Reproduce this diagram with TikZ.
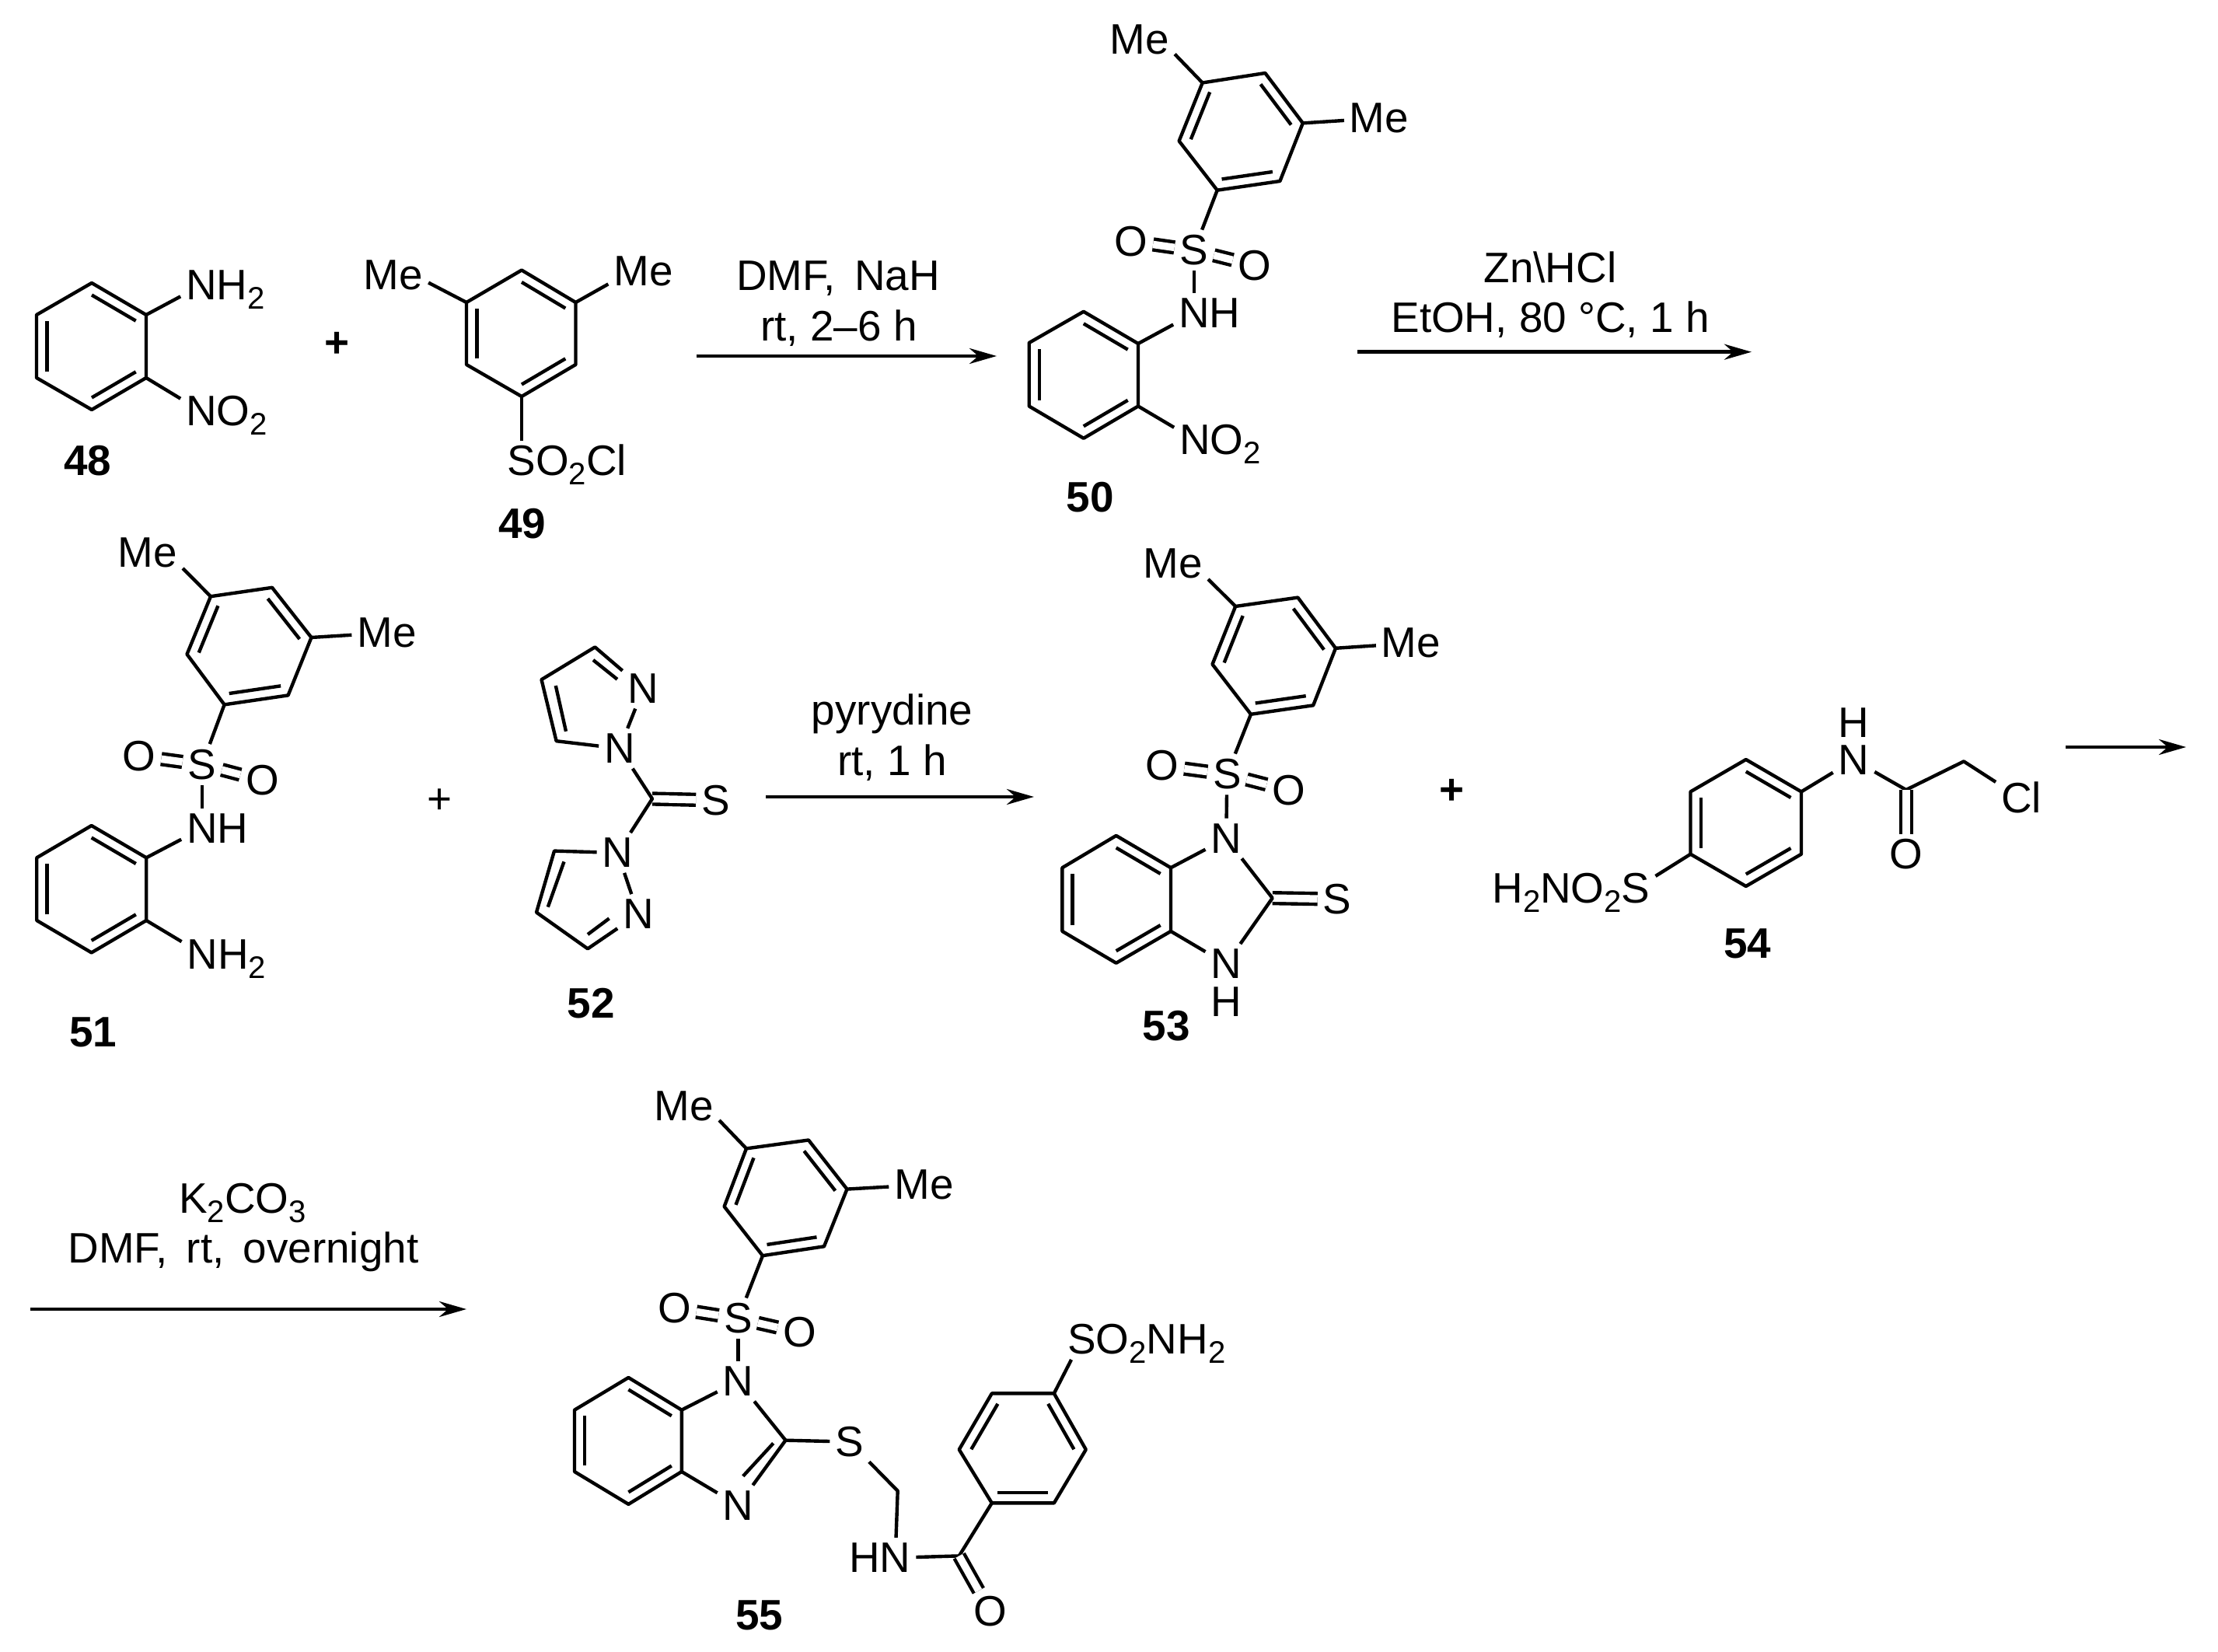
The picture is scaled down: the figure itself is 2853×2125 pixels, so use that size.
\documentclass[tikz,border=0pt]{standalone}
\usepackage{fontspec}
\setmainfont{Liberation Sans}
\usetikzlibrary{arrows.meta}
\usetikzlibrary{calc}
\newcommand*{\chemfont}{\fontsize{15.6}{18}\selectfont}
\newcommand*{\widechem}{\chemfont\spaceskip=0.44em\relax}
\newcommand*{\subn}[1]{\raisebox{-0.22em}{\fontsize{11.4}{12}\selectfont #1}}
\tikzstyle{atom}=[font=\chemfont, inner sep=0.07cm, outer sep=0pt]
\tikzstyle{hatom}=[font=\chemfont, inner sep=0pt, outer sep=0pt]
\tikzstyle{tailr}=[font=\chemfont, inner sep=0pt, outer sep=0pt, anchor=base west, xshift=-0.07cm]
\tikzstyle{taill}=[font=\chemfont, inner sep=0pt, outer sep=0pt, anchor=base east, xshift=0.07cm]
\tikzstyle{reagent}=[font=\chemfont, inner sep=0pt, anchor=base]
\tikzstyle{reagentw}=[font=\widechem, inner sep=0pt, anchor=base]
\tikzstyle{lbl}=[font=\chemfont\bfseries, inner sep=0pt]
\tikzstyle{bond}=[line width=1.25pt, line join=round]
\tikzstyle{dbond}=[bond, double, double distance=0.095cm]
\tikzstyle{rxn}=[line width=1.35pt, -{Stealth[length=0.35cm, width=0.2cm]}]
\newcommand*{\hexring}[7]{
    \coordinate (#1a) at #2;
    \coordinate (#1b) at #3;
    \coordinate (#1c) at #4;
    \coordinate (#1d) at #5;
    \coordinate (#1e) at #6;
    \coordinate (#1f) at #7;
    \coordinate (#1o) at ($(#1a)!0.5!(#1d)$);
    \draw [bond] (#1a) -- (#1b) -- (#1c) -- (#1d) -- (#1e) -- (#1f) -- cycle;
}
\newcommand*{\inbond}[3]{\draw [bond] ($(#1#2)!0.19!(#1o)$) -- ($(#1#3)!0.19!(#1o)$);}
\begin{document}
\begin{tikzpicture}[x=0.01cm, y=-0.01cm]
    \path [use as bounding box] (0,0) rectangle (2853,2125);

    % 48
    \hexring{ra}{(118,364)}{(188,405)}{(188,486)}{(118,527)}{(47,486)}{(47,405)}
    \inbond{ra}{a}{b} \inbond{ra}{c}{d} \inbond{ra}{e}{f}
    \node [atom] (n48a) at (259,367) {N};
    \node [tailr] (n48at) at (n48a.base east) {H\subn{2}};
    \node [atom] (n48b) at (259,529) {N};
    \node [tailr] (n48bt) at (n48b.base east) {O\subn{2}};
    \draw [bond] (rab) -- (n48a);
    \draw [bond] (rac) -- (n48b);
    \node [lbl] (l48) at (113,593) {48};
    \node [lbl] (p1) at (434,443) {+};

    % 49
    \hexring{rb}{(671,347.5)}{(740.5,389)}{(740.5,469)}{(671,510)}{(600,469)}{(600,389)}
    \inbond{rb}{a}{b} \inbond{rb}{c}{d} \inbond{rb}{e}{f}
    \node [atom] (me49l) at (506,354) {Me};
    \node [atom] (me49r) at (827.5,349) {Me};
    \node [atom] (s49) at (671,593) {S};
    \node [tailr] (s49t) at (s49.base east) {O\subn{2}Cl};
    \draw [bond] (rbf) -- (me49l.-12);
    \draw [bond] (rbb) -- (me49r.-160);
    \draw [bond] (rbd) -- (s49);
    \node [lbl] (l49) at (672,673.5) {49};

    \coordinate (a1s) at (895.5,458);
    \coordinate (a1e) at (1282,458);
    \draw [rxn] (a1s) -- (a1e);
    \node [reagentw] (t1a) at (1078,374) {DMF, NaH};
    \node [reagent] (t1b) at (1079,438.5) {rt, 2–6 h};

    % 50
    \hexring{rc}{(1546.7,106.5)}{(1627.4,94)}{(1675.8,158.4)}{(1646.4,233)}{(1565.7,244.7)}{(1516.6,181.4)}
    \inbond{rc}{f}{a} \inbond{rc}{b}{c} \inbond{rc}{d}{e}
    \hexring{rd}{(1393.8,400.8)}{(1464,442)}{(1464,522.5)}{(1393.8,563.8)}{(1323.7,522.5)}{(1323.7,441)}
    \inbond{rd}{a}{b} \inbond{rd}{c}{d} \inbond{rd}{e}{f}
    \node [atom] (me50l) at (1466,50.5) {Me};
    \node [atom] (me50r) at (1774,152) {Me};
    \node [atom] (s50) at (1536,322) {S};
    \node [atom] (o50l) at (1454.8,310.4) {O};
    \node [atom] (o50r) at (1614,341.6) {O};
    \node [atom] (n50a) at (1536,403) {N};
    \node [tailr] (n50at) at (n50a.base east) {H};
    \node [atom] (n50b) at (1537,565.7) {N};
    \node [tailr] (n50bt) at (n50b.base east) {O\subn{2}};
    \draw [bond] (rca) -- (me50l.-23);
    \draw [bond] (rcc) -- (me50r);
    \draw [bond] (rce) -- (s50);
    \draw [dbond] (s50) -- (o50l);
    \draw [dbond] (s50) -- (o50r);
    \draw [bond] (s50) -- (n50a);
    \draw [bond] (rdb) -- (n50a);
    \draw [bond] (rdc) -- (n50b);
    \node [lbl] (l50) at (1402,640) {50};

    \coordinate (a2s) at (1746,452.7);
    \coordinate (a2e) at (2253,452.7);
    \draw [rxn] (a2s) -- (a2e);
    \node [reagent] (t2a) at (1994,363.6) {Zn\textbackslash HCl};
    \node [reagent] (t2b) at (1994,428) {EtOH, 80 °C, 1 h};

    % 51
    \hexring{re}{(271,767.2)}{(350,755.8)}{(400.5,820)}{(370.6,894.4)}{(288.6,906.4)}{(240.5,841.6)}
    \inbond{re}{f}{a} \inbond{re}{b}{c} \inbond{re}{d}{e}
    \hexring{rf}{(117.7,1062)}{(188.2,1103.3)}{(188.2,1184)}{(117.7,1225.4)}{(47.3,1184)}{(47.3,1103.3)}
    \inbond{rf}{a}{b} \inbond{rf}{c}{d} \inbond{rf}{e}{f}
    \node [atom] (me51l) at (190,711) {Me};
    \node [atom] (me51r) at (497.5,814) {Me};
    \node [atom] (s51) at (260,983.5) {S};
    \node [atom] (o51l) at (179,972.5) {O};
    \node [atom] (o51r) at (337.5,1004) {O};
    \node [atom] (n51a) at (260,1065.7) {N};
    \node [tailr] (n51at) at (n51a.base east) {H};
    \node [atom] (n51b) at (260.4,1227.3) {N};
    \node [tailr] (n51bt) at (n51b.base east) {H\subn{2}};
    \draw [bond] (rea) -- (me51l.-24);
    \draw [bond] (rec) -- (me51r);
    \draw [bond] (ree) -- (s51);
    \draw [dbond] (s51) -- (o51l);
    \draw [dbond] (s51) -- (o51r);
    \draw [bond] (s51) -- (n51a);
    \draw [bond] (rfb) -- (n51a);
    \draw [bond] (rfc) -- (n51b);
    \node [lbl] (l51) at (120,1328) {51};
    \node [hatom] (p2) at (565.5,1031) {+};

    % 52
    \coordinate (c52) at (839,1027.5);
    \coordinate (c52a) at (765.3,832.4);
    \coordinate (c52b) at (696.5,874.2);
    \coordinate (c52c) at (715.6,953.2);
    \coordinate (c52d) at (713,1094.6);
    \coordinate (c52e) at (690,1173.6);
    \coordinate (c52f) at (756,1220.4);
    \coordinate (i52a) at (763,849);
    \coordinate (i52b) at (794,873.8);
    \coordinate (i52c) at (714.8,882);
    \coordinate (i52d) at (728,940.8);
    \coordinate (i52e) at (725.5,1108.4);
    \coordinate (i52f) at (704.8,1166.7);
    \coordinate (i52g) at (756,1202);
    \coordinate (i52h) at (783.6,1181.4);
    \node [atom] (n52a) at (797,962.8) {N};
    \node [atom] (n52b) at (827.5,885.7) {N};
    \node [atom] (n52c) at (794.4,1097) {N};
    \node [atom] (n52d) at (821,1176) {N};
    \node [atom] (s52) at (920.4,1029.4) {S};
    \draw [dbond] (c52) -- (s52);
    \draw [bond] (n52a) -- (c52) -- (n52c);
    \draw [bond] (n52a) -- (n52b);
    \draw [bond] (n52b) -- (c52a) -- (c52b) -- (c52c) -- (n52a);
    \draw [bond] (i52a) -- (i52b);
    \draw [bond] (i52c) -- (i52d);
    \draw [bond] (n52c) -- (n52d);
    \draw [bond] (n52c) -- (c52d) -- (c52e) -- (c52f) -- (n52d);
    \draw [bond] (i52e) -- (i52f);
    \draw [bond] (i52g) -- (i52h);
    \node [lbl] (l52) at (760.4,1290.6) {52};

    \coordinate (a3s) at (985,1025);
    \coordinate (a3e) at (1330,1025);
    \draw [rxn] (a3s) -- (a3e);
    \node [reagent] (t3a) at (1147.6,932.5) {pyrydine};
    \node [reagent] (t3b) at (1147.6,997.7) {rt, 1 h};

    % 53
    \hexring{rg}{(1589.2,780)}{(1669.4,768.6)}{(1718,833.8)}{(1689.2,907.3)}{(1609,918.8)}{(1559.5,854.5)}
    \inbond{rg}{f}{a} \inbond{rg}{b}{c} \inbond{rg}{d}{e}
    \hexring{rh}{(1435.7,1074.9)}{(1506,1116.2)}{(1506,1197.9)}{(1435.7,1238.8)}{(1366.4,1197.9)}{(1366.4,1116.2)}
    \inbond{rh}{a}{b} \inbond{rh}{c}{d} \inbond{rh}{e}{f}
    \coordinate (c53) at (1636.7,1155.2);
    \node [atom] (me53l) at (1509,725) {Me};
    \node [atom] (me53r) at (1815,827.4) {Me};
    \node [atom] (s53) at (1578.3,996) {S};
    \node [atom] (o53l) at (1495,984.9) {O};
    \node [atom] (o53r) at (1657.5,1016.5) {O};
    \node [atom] (n53a) at (1577.3,1078.5) {N};
    \node [atom] (n53b) at (1577.3,1240) {N};
    \node [hatom] (h53) at (1577.3,1288.5) {H};
    \node [atom] (s53b) at (1720,1156.6) {S};
    \draw [bond] (rga) -- (me53l.-24);
    \draw [bond] (rgc) -- (me53r);
    \draw [bond] (rge) -- (s53);
    \draw [dbond] (s53) -- (o53l);
    \draw [dbond] (s53) -- (o53r);
    \draw [bond] (s53) -- (n53a);
    \draw [dbond] (c53) -- (s53b);
    \draw [bond] (rhb) -- (n53a) -- (c53) -- (n53b) -- (rhc);
    \node [lbl] (l53) at (1500,1319.6) {53};
    \node [lbl] (p3) at (1867.5,1018.8) {+};

    % 54
    \hexring{ri}{(2245.8,977)}{(2317,1018.4)}{(2317,1098.7)}{(2245.8,1140)}{(2174.5,1098.7)}{(2174.5,1018.4)}
    \inbond{ri}{a}{b} \inbond{ri}{c}{d} \inbond{ri}{e}{f}
    \coordinate (c54a) at (2451.8,1016);
    \coordinate (c54b) at (2526,979.4);
    \node [atom] (n54) at (2384.5,977.5) {N};
    \node [hatom] (h54) at (2384.5,929.3) {H};
    \node [atom] (o54) at (2451.8,1099) {O};
    \node [atom] (cl54) at (2600,1025.7) {Cl};
    \node [atom] (s54) at (2104.2,1142.8) {S};
    \node [taill] (s54t) at (s54.base west) {H\subn{2}NO\subn{2}};
    \draw [bond] (rib) -- (n54) -- (c54a) -- (c54b) -- (cl54.149);
    \draw [dbond] (c54a) -- (o54);
    \draw [bond] (rie) -- (s54);
    \node [lbl] (l54) at (2247.8,1214) {54};

    \coordinate (a4s) at (2657,961);
    \coordinate (a4e) at (2812,961);
    \draw [rxn] (a4s) -- (a4e);

    % 55
    \coordinate (a5s) at (39,1684);
    \coordinate (a5e) at (600,1684);
    \draw [rxn] (a5s) -- (a5e);
    \node [reagent] (t5a) at (312,1560.5) {K\subn{2}CO\subn{3}};
    \node [reagentw] (t5b) at (313,1624.7) {DMF, rt, overnight};

    \hexring{rj}{(960,1477.4)}{(1040,1466.5)}{(1089.5,1529.6)}{(1060,1603.3)}{(981,1615.2)}{(931.6,1552)}
    \inbond{rj}{f}{a} \inbond{rj}{b}{c} \inbond{rj}{d}{e}
    \hexring{rk}{(808.4,1772)}{(876.8,1813.7)}{(876.8,1893)}{(808.4,1934.9)}{(739,1893)}{(739,1813.7)}
    \inbond{rk}{a}{b} \inbond{rk}{c}{d} \inbond{rk}{e}{f}
    \hexring{rl}{(1275.8,1792.4)}{(1355.8,1792.4)}{(1396.8,1864.6)}{(1355.8,1933.4)}{(1275.8,1933.4)}{(1233.7,1864.6)}
    \inbond{rl}{f}{a} \inbond{rl}{b}{c} \inbond{rl}{d}{e}
    \coordinate (c55a) at (1010.5,1852.7);
    \coordinate (i55a) at (994.7,1856.5);
    \coordinate (i55b) at (955.8,1898.8);
    \coordinate (c55b) at (1154.7,1917.8);
    \coordinate (c55c) at (1233.7,2001.4);
    \node [atom] (me55l) at (880,1422.8) {Me};
    \node [atom] (me55r) at (1188.4,1524) {Me};
    \node [atom] (s55a) at (949.5,1696) {S};
    \node [atom] (o55l) at (867.4,1683) {O};
    \node [atom] (o55r) at (1028.4,1714) {O};
    \node [atom] (n55a) at (949.5,1776.7) {N};
    \node [atom] (n55b) at (949.5,1936.3) {N};
    \node [atom] (s55b) at (1092.6,1854.6) {S};
    \node [atom] (n55c) at (1151.6,2003.8) {N};
    \node [taill] (n55ct) at (n55c.base west) {H};
    \node [atom] (o55b) at (1273.7,2072.6) {O};
    \node [atom] (s55c) at (1391.6,1722.5) {S};
    \node [tailr] (s55ct) at (s55c.base east) {O\subn{2}NH\subn{2}};
    \draw [bond] (rja) -- (me55l.-22);
    \draw [bond] (rjc) -- (me55r);
    \draw [bond] (rje) -- (s55a);
    \draw [dbond] (s55a) -- (o55l);
    \draw [dbond] (s55a) -- (o55r);
    \draw [bond] (s55a) -- (n55a);
    \draw [bond] (rkb) -- (n55a) -- (c55a) -- (n55b) -- (rkc);
    \draw [bond] (i55a) -- (i55b);
    \draw [bond] (c55a) -- (s55b) -- (c55b) -- (n55c) -- (c55c) -- (rle);
    \draw [dbond] (c55c) -- (o55b);
    \draw [bond] (rlb) -- (s55c);
    \node [lbl] (l55) at (977,2078) {55};
\end{tikzpicture}
\end{document}
